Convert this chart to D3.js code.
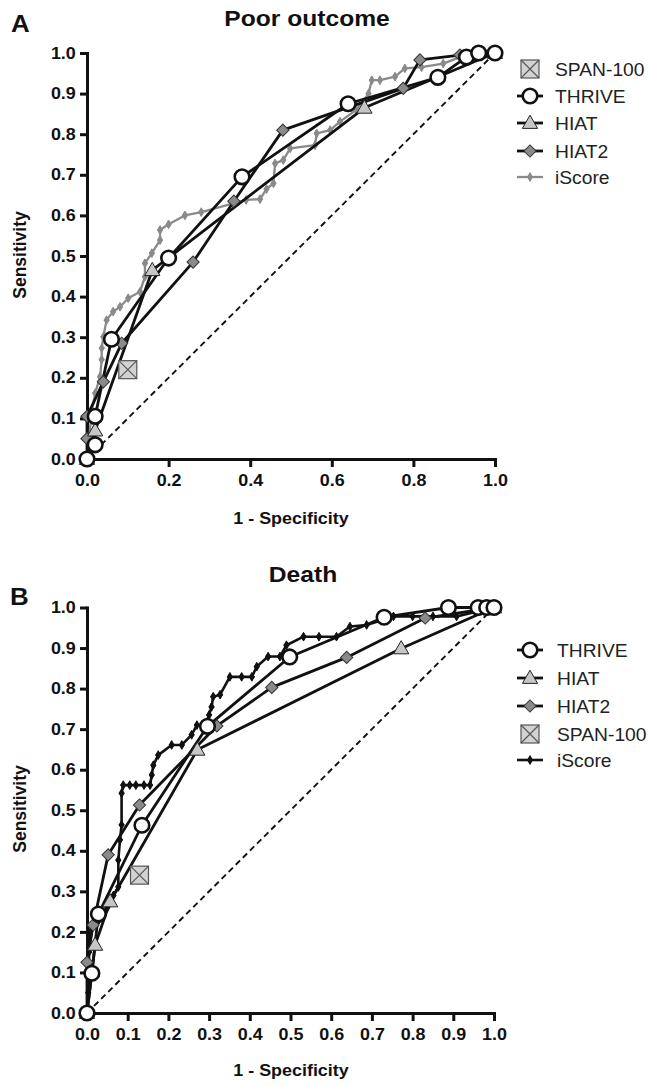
<!DOCTYPE html>
<html><head><meta charset="utf-8">
<script src="https://cdn.jsdelivr.net/npm/d3@7"></script>
<style>
body{margin:0;background:#fff}
svg{display:block}
text{font-family:"Liberation Sans",Arial,Helvetica,sans-serif}
</style>
</head><body>
<svg id="chart" width="648" height="1085"></svg>
<script>
// ---------- DATA ----------
const panelLetters = ["A", "B"];
const panelTitles = ["Poor outcome", "Death"];
const xLabel = "1 - Specificity";
const yLabel = "Sensitivity";
const xTicksA = [0, 0.2, 0.4, 0.6, 0.8, 1.0];
const xTicksB = [0, 0.1, 0.2, 0.3, 0.4, 0.5, 0.6, 0.7, 0.8, 0.9, 1.0];
const yTicks = [0, 0.1, 0.2, 0.3, 0.4, 0.5, 0.6, 0.7, 0.8, 0.9, 1.0];
const legendOrderA = ["SPAN-100", "THRIVE", "HIAT", "HIAT2", "iScore"];
const legendOrderB = ["THRIVE", "HIAT", "HIAT2", "SPAN-100", "iScore"];

// Panel A: Poor outcome  [1 - specificity, sensitivity]
const thriveA = [[0,0],[0.02,0.035],[0.02,0.105],[0.06,0.295],[0.2,0.495],[0.38,0.695],[0.64,0.875],[0.86,0.94],[0.93,0.99],[0.96,1.0],[1,1]];
const hiatA = [[0,0],[0.02,0.07],[0.16,0.465],[0.68,0.865],[1,1]];
const hiat2A = [[0,0],[0,0.05],[0,0.105],[0.04,0.19],[0.085,0.285],[0.26,0.485],[0.36,0.635],[0.48,0.81],[0.775,0.913],[0.816,0.983],[0.914,0.995],[1,1]];
const spanA = [[0.1,0.22]];
const iscoreA = [[0,0],[0.005,0.05],[0.012,0.12],[0.02,0.162],[0.032,0.203],[0.036,0.245],[0.036,0.273],[0.04,0.301],[0.048,0.342],[0.064,0.363],[0.081,0.375],[0.101,0.396],[0.13,0.412],[0.142,0.449],[0.142,0.482],[0.159,0.507],[0.179,0.539],[0.179,0.564],[0.2,0.578],[0.24,0.6],[0.28,0.608],[0.39,0.638],[0.424,0.64],[0.44,0.665],[0.457,0.679],[0.461,0.728],[0.481,0.736],[0.498,0.765],[0.559,0.773],[0.563,0.802],[0.596,0.81],[0.62,0.831],[0.66,0.86],[0.69,0.9],[0.698,0.933],[0.718,0.933],[0.755,0.942],[0.779,0.962],[0.82,0.965],[0.873,0.974],[0.914,0.99],[0.95,0.995],[1,1]];

// Panel B: Death
const thriveB = [[0,0],[0.012,0.098],[0.028,0.244],[0.135,0.463],[0.296,0.707],[0.498,0.878],[0.73,0.976],[0.888,1.0],[0.961,1],[0.982,1],[1,1]];
const hiatB = [[0,0],[0.02,0.168],[0.057,0.275],[0.271,0.649],[0.772,0.899],[1,1]];
const hiat2B = [[0,0],[0,0.125],[0.015,0.217],[0.052,0.39],[0.129,0.513],[0.319,0.708],[0.454,0.803],[0.638,0.877],[0.831,0.974],[1,1]];
const spanB = [[0.129,0.34]];
const iscoreB = [[0,0],[0.003,0.05],[0.005,0.1],[0.005,0.15],[0.008,0.2],[0.03,0.23],[0.05,0.26],[0.065,0.29],[0.077,0.311],[0.077,0.377],[0.081,0.427],[0.085,0.464],[0.085,0.542],[0.089,0.562],[0.105,0.562],[0.12,0.562],[0.14,0.562],[0.155,0.562],[0.159,0.587],[0.163,0.611],[0.175,0.636],[0.208,0.661],[0.233,0.661],[0.257,0.686],[0.27,0.71],[0.29,0.71],[0.3,0.735],[0.306,0.755],[0.31,0.78],[0.327,0.785],[0.351,0.829],[0.38,0.829],[0.405,0.829],[0.417,0.854],[0.445,0.879],[0.474,0.879],[0.49,0.907],[0.532,0.928],[0.57,0.928],[0.613,0.928],[0.646,0.953],[0.687,0.957],[0.753,0.978],[0.8,0.978],[0.85,0.978],[0.908,0.978],[1,1]];

// ---------- DRAW ----------
const svg = d3.select("#chart");
const SX = 1.12;
const FONT = '"Liberation Sans",Arial,Helvetica,sans-serif';

function txt(g, x, y, s, o) {
  o = o || {};
  return g.append("text")
    .attr("transform", `translate(${x},${y}) scale(${o.sx || SX},1)`)
    .attr("text-anchor", o.anchor || "start")
    .attr("font-size", o.size || 16)
    .attr("font-weight", o.bold ? "bold" : "normal")
    .attr("fill", o.fill || "#111")
    .text(s);
}

const styles = {
  "THRIVE": {line: "#111", lw: 2.8, sym: "circle"},
  "HIAT": {line: "#111", lw: 2.8, sym: "triangle"},
  "HIAT2": {line: "#111", lw: 2.8, sym: "diamond"},
  "SPAN-100": {line: null, sym: "xbox"},
  "iScoreA": {line: "#8a8a8a", lw: 2.3, sym: "small", fill: "#8a8a8a"},
  "iScoreB": {line: "#111", lw: 2.6, sym: "small", fill: "#111"}
};

function marker(g, sym, cx, cy, fill) {
  if (sym === "circle") {
    g.append("circle").attr("cx", cx).attr("cy", cy).attr("r", 7.3)
      .attr("fill", "#fff").attr("stroke", "#111").attr("stroke-width", 2.6);
  } else if (sym === "triangle") {
    g.append("path").attr("d", d3.symbol(d3.symbolTriangle, 100)())
      .attr("transform", `translate(${cx},${cy + 1})`)
      .attr("fill", "#c6c6c6").attr("stroke", "#222").attr("stroke-width", 1);
  } else if (sym === "diamond") {
    g.append("path").attr("d", d3.symbol(d3.symbolSquare, 75)())
      .attr("transform", `translate(${cx},${cy}) rotate(45)`)
      .attr("fill", "#8a8a8a").attr("stroke", "#333").attr("stroke-width", 1);
  } else if (sym === "xbox") {
    const s = 18, h = s / 2;
    g.append("rect").attr("x", cx - h).attr("y", cy - h).attr("width", s).attr("height", s)
      .attr("fill", "#d2d2d2").attr("stroke", "#555").attr("stroke-width", 1.2);
    g.append("path").attr("d", `M${cx-h},${cy-h}L${cx+h},${cy+h}M${cx+h},${cy-h}L${cx-h},${cy+h}`)
      .attr("stroke", "#555").attr("stroke-width", 1.1);
  } else if (sym === "small") {
    g.append("path").attr("d", d3.symbol(d3.symbolDiamond, 22)())
      .attr("transform", `translate(${cx},${cy})`)
      .attr("fill", fill).attr("stroke", fill).attr("stroke-width", 1);
    g.append("path").attr("d", d3.symbol(d3.symbolCross, 16)())
      .attr("transform", `translate(${cx},${cy})`)
      .attr("fill", fill);
  }
}

function series(g, data, st, x, y) {
  if (st.line) {
    g.append("path").datum(data)
      .attr("d", d3.line().x(d => x(d[0])).y(d => y(d[1])))
      .attr("fill", "none").attr("stroke", st.line).attr("stroke-width", st.lw)
      .attr("stroke-linejoin", "round");
  }
}
function marks(g, data, st, x, y) {
  data.forEach(d => marker(g, st.sym, x(d[0]), y(d[1]), st.fill));
}

function drawPanel(cfg) {
  const g = svg.append("g");
  const x = d3.scaleLinear().domain([0, 1]).range(cfg.xr);
  const y = d3.scaleLinear().domain([0, 1]).range(cfg.yr);

  // axes
  const xa = g.append("g").attr("transform", `translate(0,${y(0)})`)
    .call(d3.axisBottom(x).tickValues(cfg.xticks).tickFormat(d3.format(".1f"))
      .tickSize(8).tickPadding(8).tickSizeOuter(0));
  const ya = g.append("g").attr("transform", `translate(${x(0)},0)`)
    .call(d3.axisLeft(y).tickValues(yTicks).tickFormat(d3.format(".1f"))
      .tickSize(7).tickPadding(3).tickSizeOuter(0));
  [xa, ya].forEach(a => {
    a.attr("font-family", FONT).attr("font-size", 16).attr("font-weight", "bold");
    a.select(".domain").attr("stroke", "#111").attr("stroke-width", 3).attr("stroke-linecap", "square");
    a.selectAll(".tick line").attr("stroke", "#111").attr("stroke-width", 3);
    a.selectAll(".tick text").attr("fill", "#111");
  });
  xa.selectAll(".tick text").attr("transform", `scale(${SX},1)`);
  ya.selectAll(".tick text").attr("transform", `scale(${SX},1)`);

  // diagonal reference
  g.append("line").attr("x1", x(0)).attr("y1", y(0)).attr("x2", x(1)).attr("y2", y(1))
    .attr("stroke", "#111").attr("stroke-width", 1.9).attr("stroke-dasharray", "6,4");

  const plot = g.append("g");
  const S = cfg.series;
  series(plot, S.iScore, S.iStyle, x, y);
  marks(plot, S.iScore, S.iStyle, x, y);
  series(plot, S.HIAT2, styles.HIAT2, x, y);
  series(plot, S.HIAT, styles.HIAT, x, y);
  series(plot, S.THRIVE, styles.THRIVE, x, y);
  marks(plot, S.HIAT2, styles.HIAT2, x, y);
  marks(plot, S.HIAT, styles.HIAT, x, y);
  marks(plot, S.THRIVE, styles.THRIVE, x, y);
  marks(plot, S.SPAN, styles["SPAN-100"], x, y);

  // texts
  txt(g, cfg.letterPos[0], cfg.letterPos[1], cfg.letter, {size: 24, bold: true, sx: 1.08});
  txt(g, cfg.titlePos[0], cfg.titlePos[1], cfg.title, {size: 22, bold: true, anchor: "middle", sx: 1.12});
  txt(g, 291, cfg.xlabY, xLabel, {size: 16, bold: true, anchor: "middle"});
  g.append("text").attr("transform", `translate(26,${cfg.ylabY}) rotate(-90) scale(1,1.1)`)
    .attr("text-anchor", "middle").attr("font-size", 17.5).attr("font-weight", "bold")
    .attr("fill", "#111").text(yLabel);

  // legend
  const lg = g.append("g");
  cfg.legend.forEach((name, i) => {
    const yy = cfg.legY[i];
    const st = name === "iScore" ? S.iStyle : styles[name];
    if (st.line) {
      lg.append("line").attr("x1", 517).attr("x2", 543).attr("y1", yy).attr("y2", yy)
        .attr("stroke", st.line).attr("stroke-width", st.lw);
    }
    marker(lg, st.sym, 530, yy, st.fill);
    txt(lg, cfg.legTextX, yy + 6.5, name, {size: 18, sx: 1.07, fill: "#222"});
  });
}

drawPanel({
  letter: panelLetters[0], title: panelTitles[0],
  xr: [87, 495], yr: [459, 53], xticks: xTicksA,
  letterPos: [11, 32], titlePos: [307, 26], xlabY: 524, ylabY: 255,
  legend: legendOrderA, legY: [69, 96, 123, 151, 177], legTextX: 555,
  series: {THRIVE: thriveA, HIAT: hiatA, HIAT2: hiat2A, SPAN: spanA, iScore: iscoreA, iStyle: styles.iScoreA}
});
drawPanel({
  letter: panelLetters[1], title: panelTitles[1],
  xr: [87, 494], yr: [1013, 607.5], xticks: xTicksB,
  letterPos: [10, 605], titlePos: [303, 582], xlabY: 1076, ylabY: 809,
  legend: legendOrderB, legY: [650, 678, 706, 734, 760], legTextX: 557,
  series: {THRIVE: thriveB, HIAT: hiatB, HIAT2: hiat2B, SPAN: spanB, iScore: iscoreB, iStyle: styles.iScoreB}
});
</script>
</body></html>
